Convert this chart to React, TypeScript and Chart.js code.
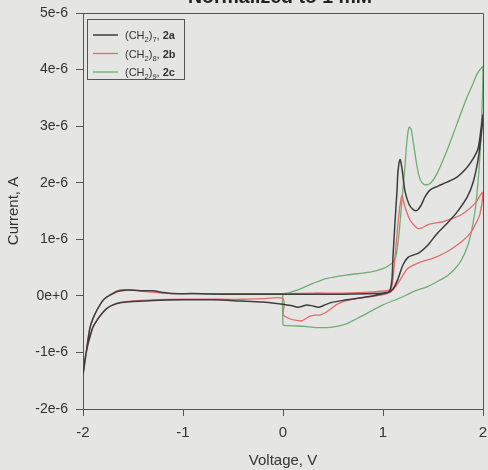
import React, { useEffect, useRef } from "react";
import { Chart, registerables } from "chart.js";

Chart.register(...registerables);

// ---- data (volts, microamps), listed in scan order ----
const v2a = [0, 0.08, 0.15, 0.2, 0.24, 0.3, 0.36, 0.42, 0.48, 0.6, 0.8, 0.95, 1.05, 1.1, 1.15, 1.2, 1.25, 1.3, 1.36, 1.44, 1.54, 1.64, 1.74, 1.84, 1.9, 1.95, 1.98, 2.0,
  1.98, 1.95, 1.9, 1.84, 1.74, 1.64, 1.55, 1.47, 1.42, 1.38, 1.34, 1.3, 1.26, 1.22, 1.19, 1.17, 1.15, 1.14, 1.12, 1.1, 1.09, 1.07, 1.04, 0.9, 0.6, 0.3, 0, -0.3, -0.6, -0.9, -1.1, -1.2, -1.3, -1.4, -1.5, -1.58, -1.65, -1.71, -1.76, -1.8, -1.86, -1.9, -1.93, -1.96, -1.98, -2.0,
  -1.99, -1.98, -1.95, -1.93, -1.9, -1.86, -1.81, -1.76, -1.7, -1.63, -1.5, -1.3, -1.0, -0.7, -0.43, -0.2, 0];
const i2a = [-0.15, -0.17, -0.2, -0.18, -0.16, -0.18, -0.2, -0.16, -0.12, -0.08, -0.03, 0.02, 0.06, 0.12, 0.3, 0.55, 0.68, 0.72, 0.76, 0.88, 1.1, 1.28, 1.48, 1.74, 2.0, 2.4, 2.8, 3.2,
  2.95, 2.6, 2.42, 2.27, 2.1, 2.01, 1.94, 1.87, 1.75, 1.6, 1.51, 1.53, 1.62, 1.85, 2.25, 2.41, 2.2, 1.86, 1.3, 0.7, 0.3, 0.1, 0.06, 0.04, 0.03, 0.03, 0.03, 0.03, 0.03, 0.04, 0.04, 0.06, 0.09, 0.09, 0.1, 0.1, 0.08, 0.03, -0.02, -0.08, -0.25, -0.4, -0.56, -0.9, -1.15, -1.4,
  -1.25, -1.12, -0.85, -0.72, -0.55, -0.43, -0.31, -0.22, -0.16, -0.12, -0.1, -0.08, -0.07, -0.07, -0.09, -0.11, -0.15];

const v2b = [0, 0.06, 0.12, 0.19, 0.23, 0.27, 0.32, 0.37, 0.44, 0.5, 0.54, 0.6, 0.67, 0.8, 0.9, 1.0, 1.07, 1.12, 1.17, 1.24, 1.3, 1.38, 1.51, 1.64, 1.71, 1.8, 1.87, 1.92, 1.97, 2.0,
  1.98, 1.94, 1.9, 1.83, 1.77, 1.68, 1.6, 1.5, 1.44, 1.39, 1.35, 1.31, 1.27, 1.22, 1.2, 1.19, 1.17, 1.15, 1.12, 1.1, 1.08, 1.04, 0.9, 0.6, 0.3, 0, -0.3, -0.6, -0.9, -1.1, -1.2, -1.35, -1.5, -1.6, -1.66, -1.71, -1.76, -1.8, -1.86, -1.9, -1.93, -1.96, -1.98, -2.0,
  -1.99, -1.98, -1.95, -1.93, -1.9, -1.86, -1.81, -1.76, -1.7, -1.63, -1.5, -1.3, -1.0, -0.7, -0.4, -0.2, 0, 0];
const i2b = [-0.34, -0.4, -0.43, -0.44, -0.4, -0.36, -0.34, -0.34, -0.28, -0.2, -0.15, -0.1, -0.07, -0.03, -0.01, 0.02, 0.06, 0.15, 0.28, 0.47, 0.54, 0.6, 0.67, 0.78, 0.86, 0.98, 1.1, 1.25, 1.45, 1.83,
  1.8, 1.68, 1.6, 1.49, 1.42, 1.36, 1.31, 1.28, 1.25, 1.2, 1.19, 1.25, 1.34, 1.57, 1.72, 1.78, 1.6, 1.28, 0.69, 0.3, 0.12, 0.09, 0.07, 0.05, 0.05, 0.04, 0.04, 0.04, 0.04, 0.04, 0.05, 0.07, 0.1, 0.11, 0.09, 0.04, -0.02, -0.08, -0.25, -0.4, -0.56, -0.9, -1.15, -1.4,
  -1.25, -1.12, -0.85, -0.72, -0.55, -0.43, -0.31, -0.22, -0.16, -0.12, -0.09, -0.07, -0.06, -0.06, -0.06, -0.05, -0.05, -0.34];

const v2c = [0, 0.1, 0.21, 0.33, 0.44, 0.54, 0.64, 0.74, 0.84, 0.92, 1.0, 1.08, 1.14, 1.24, 1.31, 1.44, 1.54, 1.64, 1.72, 1.78, 1.84, 1.88, 1.92, 1.95, 1.97, 1.99, 2.0,
  1.97, 1.94, 1.9, 1.84, 1.74, 1.64, 1.54, 1.48, 1.43, 1.39, 1.36, 1.33, 1.3, 1.28, 1.26, 1.24, 1.22, 1.2, 1.18, 1.16, 1.13, 1.1, 1.07, 1.0, 0.87, 0.64, 0.44, 0.3, 0.14, 0.05, 0, 0];
const i2c = [-0.52, -0.53, -0.54, -0.56, -0.56, -0.54, -0.49, -0.4, -0.31, -0.23, -0.16, -0.1, -0.06, 0.02, 0.08, 0.16, 0.25, 0.35, 0.48, 0.62, 0.85, 1.1, 1.5, 2.0, 2.5, 3.3, 4.05,
  4.0, 3.92, 3.75, 3.51, 3.04, 2.57, 2.16, 2.0, 1.96, 2.0, 2.12, 2.4, 2.75, 2.95, 2.98, 2.75, 2.3, 1.9, 1.5, 1.1, 0.7, 0.6, 0.55, 0.48, 0.42, 0.37, 0.31, 0.22, 0.1, 0.05, 0.03, -0.52];

const seriesCodes = ["2a", "2b", "2c"];
const chainLengths = ["7", "8", "9"];
const seriesColors = ["#3d3d3d", "#e36b6e", "#6fae74"];
const seriesWidths = [1.5, 1.3, 1.3];

const titleText = "Normalized to 1 mM";
const xTitle = "Voltage, V";
const yTitle = "Current, A";

const BG = "#e5e5e3";
const TEXT = "#333333";
const AXIS = "#555555";
const FONT = "'Liberation Sans', Arial, Helvetica, sans-serif";

const toPoints = (v: number[], i: number[]) => v.map((x, k) => ({ x, y: i[k] * 1e-6 }));

const decorPlugin = {
  id: "decor",
  beforeDraw(chart: any) {
    const { ctx, width, height } = chart;
    ctx.save();
    ctx.fillStyle = BG;
    ctx.fillRect(0, 0, width, height);
    ctx.restore();
  },
  afterDraw(chart: any) {
    const { ctx, chartArea } = chart;
    const { left, top, right, bottom } = chartArea;
    ctx.save();
    // frame top & right
    ctx.strokeStyle = AXIS;
    ctx.lineWidth = 1;
    ctx.beginPath();
    ctx.moveTo(left, Math.round(top) + 0.5);
    ctx.lineTo(Math.round(right) + 0.5, Math.round(top) + 0.5);
    ctx.lineTo(Math.round(right) + 0.5, bottom);
    ctx.stroke();

    // title (mostly above the visible page)
    ctx.fillStyle = "#222";
    ctx.font = `bold 19.5px ${FONT}`;
    ctx.textAlign = "center";
    ctx.textBaseline = "alphabetic";
    ctx.fillText(titleText, 280, 3);

    // legend
    const bx = left + 4.5, by = top + 6.5, bw = 97, bh = 60;
    ctx.strokeStyle = AXIS;
    ctx.lineWidth = 1;
    ctx.strokeRect(bx, by, bw, bh);
    const rowY = [top + 22, top + 40.5, top + 59];
    seriesCodes.forEach((code, k) => {
      const y = rowY[k];
      ctx.strokeStyle = seriesColors[k];
      ctx.lineWidth = seriesWidths[k];
      ctx.beginPath();
      ctx.moveTo(left + 10, y);
      ctx.lineTo(left + 35, y);
      ctx.stroke();
      let x = left + 42;
      const base = y + 4;
      const parts: [string, string, number][] = [
        ["(CH", `11px ${FONT}`, 0],
        ["2", `7.5px ${FONT}`, 3],
        [")", `11px ${FONT}`, 0],
        [chainLengths[k], `7.5px ${FONT}`, 3],
        [", ", `11px ${FONT}`, 0],
        [code, `bold 11px ${FONT}`, 0],
      ];
      ctx.fillStyle = TEXT;
      ctx.textAlign = "left";
      ctx.textBaseline = "alphabetic";
      for (const [t, f, dy] of parts) {
        ctx.font = f;
        ctx.fillText(t, x, base + dy);
        x += ctx.measureText(t).width;
      }
    });
    ctx.restore();
  },
};

export default function App() {
  const ref = useRef<HTMLCanvasElement | null>(null);
  useEffect(() => {
    if (!ref.current) return;
    const datasets = [
      [v2a, i2a],
      [v2b, i2b],
      [v2c, i2c],
    ].map(([v, i], k) => ({
      label: seriesCodes[k],
      data: toPoints(v, i),
      borderColor: seriesColors[k],
      borderWidth: seriesWidths[k],
      pointRadius: 0,
      showLine: true,
      fill: false,
      tension: 0.3,
    }));
    const chart = new Chart(ref.current, {
      type: "scatter",
      data: { datasets },
      plugins: [decorPlugin],
      options: {
        animation: false,
        responsive: false,
        events: [],
        layout: { padding: { top: 13, right: 5, left: 0, bottom: 0 } },
        plugins: { legend: { display: false }, tooltip: { enabled: false }, title: { display: false } },
        scales: {
          x: {
            type: "linear",
            min: -2,
            max: 2,
            ticks: { stepSize: 1, color: TEXT, font: { family: FONT, size: 15 }, padding: 8 },
            grid: { drawOnChartArea: false, drawTicks: true, tickLength: 7, color: AXIS },
            border: { display: true, color: AXIS, width: 1 },
            title: { display: true, text: xTitle, color: TEXT, font: { family: FONT, size: 15 }, padding: 0 },
            afterFit: (s: any) => { s.height = 61; s.paddingLeft = 0; s.paddingRight = 0; },
          },
          y: {
            type: "linear",
            min: -2e-6,
            max: 5e-6,
            ticks: {
              stepSize: 1e-6,
              color: TEXT,
              font: { family: FONT, size: 14 },
              padding: 8,
              callback: (val: any) => {
                const n = Math.round(Number(val) * 1e6);
                return n === 0 ? "0e+0" : `${n}e-6`;
              },
            },
            grid: { drawOnChartArea: false, drawTicks: true, tickLength: 7, color: AXIS },
            border: { display: true, color: AXIS, width: 1 },
            title: { display: true, text: yTitle, color: TEXT, font: { family: FONT, size: 15 }, padding: 5 },
            afterFit: (s: any) => { s.width = 83; s.paddingTop = 0; s.paddingBottom = 0; },
          },
        },
      },
    } as any);
    return () => chart.destroy();
  }, []);
  return (
    <div style={{ position: "fixed", left: 0, top: 0, width: 488, height: 470, background: BG }}>
      <canvas ref={ref} width={488} height={470} style={{ display: "block" }} />
    </div>
  );
}
